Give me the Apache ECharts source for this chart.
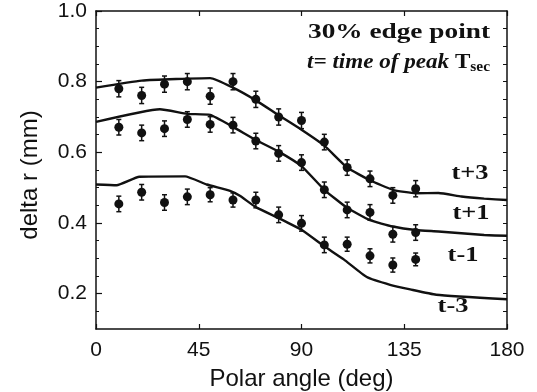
<!doctype html>
<html lang="en">
<head>
    <meta charset="utf-8">
    <title>delta r vs polar angle</title>
    <style>
        html, body { margin: 0; padding: 0; background: #fff; }
        #chart { width: 537px; height: 392px; }
    </style>
</head>
<body>
    <div id="chart"></div>
    <script src="https://cdn.jsdelivr.net/npm/echarts@6/dist/echarts.min.js"></script>
    <script>
        // measured points (every 10 deg)
        const angles = [10, 20, 30, 40, 50, 60, 70, 80, 90, 100, 110, 120, 130, 140];
        const ptsPlus3 = [0.780, 0.761, 0.793, 0.800, 0.759, 0.800, 0.750, 0.700, 0.690, 0.629, 0.557, 0.525, 0.478, 0.497];
        const ptsPlus1 = [0.671, 0.655, 0.667, 0.693, 0.679, 0.677, 0.632, 0.597, 0.571, 0.494, 0.437, 0.430, 0.368, 0.373];
        const ptsMinus1 = [0.454, 0.487, 0.458, 0.474, 0.480, 0.465, 0.465, 0.423, 0.399, 0.338, 0.340, 0.307, 0.281, 0.297];
        const errPlus3 = [0.023, 0.023, 0.023, 0.023, 0.023, 0.023, 0.023, 0.023, 0.023, 0.022, 0.022, 0.022, 0.022, 0.023];
        const errPlus1 = [0.022, 0.022, 0.022, 0.022, 0.022, 0.022, 0.022, 0.022, 0.022, 0.022, 0.022, 0.022, 0.022, 0.022];
        const errMinus1 = [0.022, 0.022, 0.022, 0.022, 0.020, 0.020, 0.022, 0.022, 0.022, 0.022, 0.020, 0.020, 0.020, 0.018];

        // model curves [angle, delta r]
        const curvePlus3 = [[0, 0.783], [20, 0.803], [50, 0.810], [60, 0.783], [70, 0.747], [80, 0.705], [90, 0.664],
            [100, 0.619], [110, 0.557], [120, 0.521], [130, 0.494], [140, 0.484], [150, 0.485], [160, 0.475], [170, 0.469], [180, 0.465]];
        const curvePlus1 = [[0, 0.686], [28, 0.722], [40, 0.709], [50, 0.706], [60, 0.672], [70, 0.635], [80, 0.602], [90, 0.561],
            [100, 0.494], [110, 0.443], [120, 0.408], [130, 0.390], [140, 0.380], [150, 0.376], [170, 0.366], [180, 0.364]];
        const curveMinus3 = [[0, 0.509], [9, 0.507], [19, 0.531], [39, 0.532], [48.5, 0.509], [58.7, 0.491], [63, 0.477], [70, 0.445],
            [80, 0.414], [90, 0.381], [100, 0.334], [108.5, 0.297], [118.6, 0.247], [128.8, 0.225], [137.6, 0.212], [149, 0.197], [180, 0.184]];

        const xTicks = [0, 45, 90, 135, 180];
        const yTicks = [0.2, 0.4, 0.6, 0.8, 1.0];
        const yMinor = [0.15, 0.2, 0.25, 0.3, 0.35, 0.4, 0.45, 0.5, 0.55, 0.6, 0.65, 0.7, 0.75, 0.8, 0.85, 0.9, 0.95];

        const ink = '#111';
        const chart = echarts.init(document.getElementById('chart'));

        function pairs(xs, ys) { return xs.map((x, i) => [x, ys[i]]); }
        function bars(xs, ys, es) { return xs.map((x, i) => [x, ys[i] - es[i], ys[i] + es[i]]); }

        function errorSeries(data) {
            return {
                type: 'custom',
                data: data,
                z: 3,
                renderItem: function (params, api) {
                    const lo = api.coord([api.value(0), api.value(1)]);
                    const hi = api.coord([api.value(0), api.value(2)]);
                    const w = 2.5;
                    const st = { stroke: ink, lineWidth: 1.5 };
                    return {
                        type: 'group',
                        children: [
                            { type: 'line', shape: { x1: lo[0], y1: lo[1], x2: hi[0], y2: hi[1] }, style: st },
                            { type: 'line', shape: { x1: lo[0] - w, y1: lo[1], x2: lo[0] + w, y2: lo[1] }, style: st },
                            { type: 'line', shape: { x1: hi[0] - w, y1: hi[1], x2: hi[0] + w, y2: hi[1] }, style: st }
                        ]
                    };
                }
            };
        }

        function lineSeries(data) {
            return {
                type: 'line', data: data, showSymbol: false, smooth: 0.15,
                lineStyle: { color: ink, width: 2.4 }, z: 2, silent: true
            };
        }

        function dotSeries(data) {
            return {
                type: 'scatter', data: data, symbol: 'circle', symbolSize: 9,
                itemStyle: { color: ink, opacity: 1 }, z: 4
            };
        }

        const axisLine = { show: true, onZero: false, lineStyle: { color: ink, width: 1.5 } };
        const sans = 'Liberation Sans, Arial, sans-serif';
        const serif = 'Liberation Serif, Times New Roman, serif';

        chart.setOption({
            animation: false,
            backgroundColor: '#fff',
            grid: { left: 96, right: 30, top: 11, bottom: 63, containLabel: false, outerBoundsMode: 'none' },
            xAxis: [
                {
                    type: 'value', min: 0, max: 180, interval: 45, position: 'bottom',
                    name: 'Polar angle (deg)', nameLocation: 'middle', nameGap: 38,
                    nameTextStyle: { fontFamily: sans, fontSize: 24, color: ink },
                    axisLine: axisLine,
                    axisTick: { show: true, inside: true, length: 5, customValues: xTicks, lineStyle: { color: ink, width: 1.2 } },
                    axisLabel: { fontFamily: sans, fontSize: 21, color: ink, margin: 11, customValues: xTicks },
                    splitLine: { show: false }
                },
                {
                    type: 'value', min: 0, max: 180, interval: 45, position: 'top',
                    axisLine: axisLine,
                    axisTick: { show: true, inside: true, length: 5, lineStyle: { color: ink, width: 1.2 } },
                    axisLabel: { show: false },
                    splitLine: { show: false }
                }
            ],
            yAxis: [
                {
                    type: 'value', min: 0.1, max: 1.0, position: 'left',
                    axisLine: axisLine,
                    axisTick: { show: true, inside: true, length: 6, customValues: yTicks, lineStyle: { color: ink, width: 1.2 } },
                    axisLabel: { fontFamily: sans, fontSize: 21, color: ink, margin: 9, customValues: yTicks, formatter: v => v.toFixed(1) },
                    splitLine: { show: false }
                },
                {
                    type: 'value', min: 0.1, max: 1.0, position: 'left',
                    axisLine: { show: false },
                    axisTick: { show: true, inside: true, length: 3, customValues: yMinor, lineStyle: { color: ink, width: 1 } },
                    axisLabel: { show: false },
                    splitLine: { show: false }
                },
                {
                    type: 'value', min: 0.1, max: 1.0, position: 'right',
                    axisLine: axisLine,
                    axisTick: { show: true, inside: true, length: 4, customValues: yMinor, lineStyle: { color: ink, width: 1 } },
                    axisLabel: { show: false },
                    splitLine: { show: false }
                }
            ],
            graphic: [
                {
                    type: 'text', x: 30, y: 175, rotation: Math.PI / 2,
                    style: { text: 'delta r (mm)', align: 'center', verticalAlign: 'middle',
                        font: '24px ' + sans, fill: ink }
                },
                {
                    type: 'text', x: 490, y: 33, scaleX: 1.3,
                    style: { text: '30% edge point', align: 'right', verticalAlign: 'middle',
                        font: 'bold 21px ' + serif, fill: ink }
                },
                {
                    type: 'text', x: 490, y: 63, scaleX: 1.1,
                    style: {
                        text: '{i|t= time of peak }{b|T}{s|sec}', align: 'right', verticalAlign: 'middle', fill: ink,
                        rich: {
                            i: { font: 'italic bold 21px ' + serif, fill: ink },
                            b: { font: 'bold 21px ' + serif, fill: ink },
                            s: { font: 'bold 14px ' + serif, fill: ink, padding: [8, 0, 0, 0] }
                        }
                    }
                },
                { type: 'text', x: 470, y: 173, scaleX: 1.2, style: { text: 't+3', align: 'center', verticalAlign: 'middle', font: 'bold 22px ' + serif, fill: ink } },
                { type: 'text', x: 471, y: 213, scaleX: 1.2, style: { text: 't+1', align: 'center', verticalAlign: 'middle', font: 'bold 22px ' + serif, fill: ink } },
                { type: 'text', x: 463, y: 255, scaleX: 1.2, style: { text: 't-1', align: 'center', verticalAlign: 'middle', font: 'bold 22px ' + serif, fill: ink } },
                { type: 'text', x: 453, y: 306, scaleX: 1.2, style: { text: 't-3', align: 'center', verticalAlign: 'middle', font: 'bold 22px ' + serif, fill: ink } }
            ],
            series: [
                lineSeries(curvePlus3),
                lineSeries(curvePlus1),
                lineSeries(curveMinus3),
                errorSeries(bars(angles, ptsPlus3, errPlus3)),
                errorSeries(bars(angles, ptsPlus1, errPlus1)),
                errorSeries(bars(angles, ptsMinus1, errMinus1)),
                dotSeries(pairs(angles, ptsPlus3)),
                dotSeries(pairs(angles, ptsPlus1)),
                dotSeries(pairs(angles, ptsMinus1))
            ]
        });
    </script>
</body>
</html>
